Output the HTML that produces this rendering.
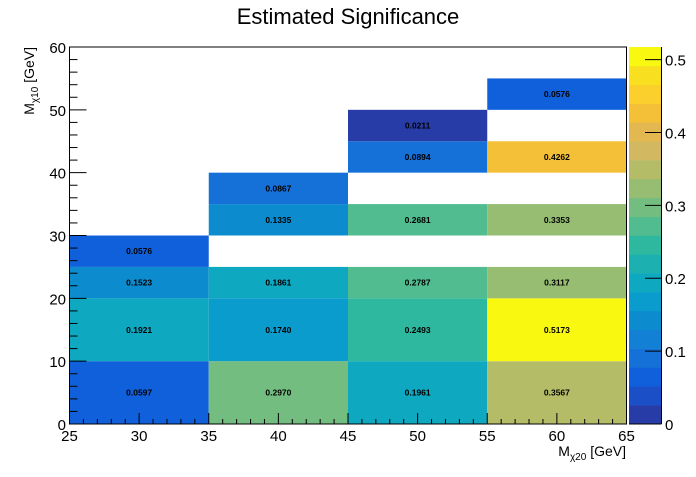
<!DOCTYPE html>
<html><head><meta charset="utf-8"><style>
body{margin:0;background:#fff;}
svg text{font-family:"Liberation Sans",sans-serif;}
</style></head><body>
<svg id="c" width="696" height="472" xmlns="http://www.w3.org/2000/svg">
<text x="348" y="24" font-size="22" text-anchor="middle">Estimated Significance</text>
<g id="cells"></g><g id="axes"></g>
<text x="626" y="456" font-size="14" text-anchor="end">M<tspan font-size="10" dy="4">χ20</tspan><tspan dy="-4"> [GeV]</tspan></text>
<text transform="translate(34,47) rotate(-90)" font-size="14" text-anchor="end">M<tspan font-size="10" dy="4">χ10</tspan><tspan dy="-4"> [GeV]</tspan></text>
</svg>
<script>
const xLo=[25,25,25,25,35,35,35,35,35,45,45,45,45,45,45,55,55,55,55,55,55];
const yLo=[0,10,20,25,0,10,20,30,35,0,10,20,30,40,45,0,10,20,30,40,50];
const yHi=[10,20,25,30,10,20,25,35,40,10,20,25,35,45,50,10,20,25,35,45,55];
const vals=[0.0597,0.1921,0.1523,0.0576,0.2970,0.1740,0.1861,0.1335,0.0867,0.1961,0.2493,0.2787,0.2681,0.0894,0.0211,0.3567,0.5173,0.3117,0.3353,0.4262,0.0576];
const labels=["0.0597","0.1921","0.1523","0.0576","0.2970","0.1740","0.1861","0.1335","0.0867","0.1961","0.2493","0.2787","0.2681","0.0894","0.0211","0.3567","0.5173","0.3117","0.3353","0.4262","0.0576"];
const xTicks=[25,30,35,40,45,50,55,60,65];
const yTicks=[0,10,20,30,40,50,60];
const zTicks=[0,0.1,0.2,0.3,0.4,0.5];
const palette=["#283ca8","#1a4fc8","#1060dc","#1570d8","#1280d4","#0c8ccf","#0a9ccc","#0ea8c0","#1db0b0","#2eb8a0","#50bc90","#74bd80","#96bd72","#b4bc68","#d2b860","#e4b850","#f4c038","#fcd02c","#f8e020","#f8f810"];
const X0=69.5,X1=626.5,Y0=424,Y1=47,zMax=0.5173;
const sx=v=>X0+(v-25)/40*(X1-X0), sy=v=>Y0-v/60*(Y0-Y1), sz=v=>Y0-v/zMax*(Y0-Y1);
const col=v=>palette[Math.min(19,Math.floor(v/zMax*20))];
const NS="http://www.w3.org/2000/svg";
function mk(p,t,a){const e=document.createElementNS(NS,t);for(const k in a)e.setAttribute(k,a[k]);p.appendChild(e);return e;}
const cg=document.getElementById('cells'),ag=document.getElementById('axes');
for(let i=0;i<vals.length;i++){
 const r=mk(cg,'rect',{x:sx(xLo[i]),y:sy(yHi[i]),width:sx(xLo[i]+10)-sx(xLo[i]),height:sy(yLo[i])-sy(yHi[i]),fill:col(vals[i])});
 
 
 const t=mk(cg,'text',{x:sx(xLo[i]+5),y:(sy(yLo[i])+sy(yHi[i]))/2+3,'font-size':8.5,'font-weight':'bold','text-anchor':'middle'});
 t.textContent=labels[i];
 
 
}
for(let k=0;k<20;k++){
 const r=mk(cg,'rect',{x:629,y:sz((k+1)*zMax/20),width:32,height:sz(k*zMax/20)-sz((k+1)*zMax/20)+0.3,fill:palette[k]});
 
 
}
mk(ag,'line',{x1:629,y1:Y0,x2:661.5,y2:Y0,stroke:'#000'});
mk(ag,'line',{x1:661.5,y1:Y0,x2:661.5,y2:Y1,stroke:'#000'});
zTicks.forEach(v=>{const y=sz(v);mk(ag,'line',{x1:645,y1:y,x2:661.5,y2:y,stroke:'#000'});
 const t=mk(ag,'text',{x:665,y:y+6,'font-size':15});t.textContent=String(v);
 
 });
mk(ag,'rect',{x:X0,y:Y1,width:X1-X0,height:Y0-Y1,fill:'none',stroke:'#000'});
for(let v=25;v<=65;v++){const x=sx(v),L=v%5==0?11:5;mk(ag,'line',{x1:x,y1:Y0,x2:x,y2:Y0-L,stroke:'#000'});}
for(let v=0;v<=60;v+=2){const y=sy(v),L=v%10==0?17:8;mk(ag,'line',{x1:X0,y1:y,x2:X0+L,y2:y,stroke:'#000'});}
xTicks.forEach(v=>{const t=mk(ag,'text',{x:sx(v),y:441,'font-size':15,'text-anchor':'middle'});t.textContent=v;
 
 });
yTicks.forEach(v=>{const t=mk(ag,'text',{x:66,y:sy(v)+6,'font-size':15,'text-anchor':'end'});t.textContent=v;
 
 });
</script>
</body></html>
